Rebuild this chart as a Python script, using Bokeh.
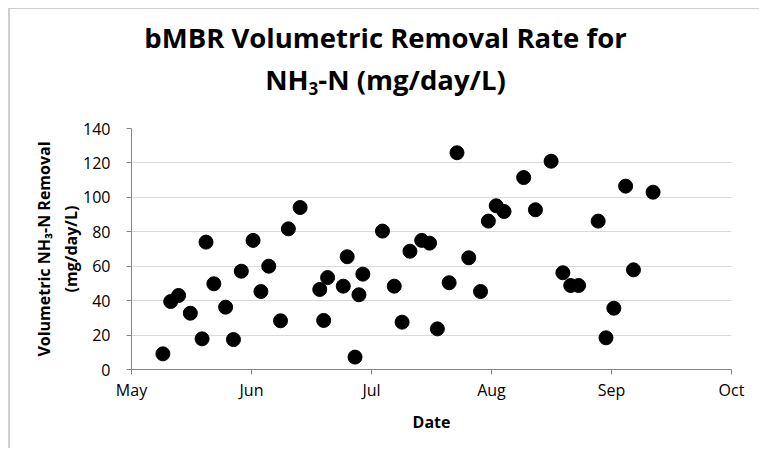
import numpy as np
import pandas as pd
from bokeh.plotting import figure
from bokeh.models import FixedTicker, Range1d, ColumnDataSource, Div
from bokeh.layouts import column
from bokeh.embed import file_html
from bokeh.resources import INLINE

# ---- data ----
dates = ["2012-05-09", "2012-05-11", "2012-05-13", "2012-05-16", "2012-05-19",
         "2012-05-20", "2012-05-22", "2012-05-25", "2012-05-27", "2012-05-29",
         "2012-06-01", "2012-06-03", "2012-06-05", "2012-06-08", "2012-06-10",
         "2012-06-13", "2012-06-18", "2012-06-19", "2012-06-20", "2012-06-24",
         "2012-06-25", "2012-06-27", "2012-06-28", "2012-06-29", "2012-07-04",
         "2012-07-07", "2012-07-09", "2012-07-11", "2012-07-14", "2012-07-16",
         "2012-07-18", "2012-07-21", "2012-07-23", "2012-07-26", "2012-07-29",
         "2012-07-31", "2012-08-02", "2012-08-04", "2012-08-09", "2012-08-12",
         "2012-08-16", "2012-08-19", "2012-08-21", "2012-08-23", "2012-08-28",
         "2012-08-30", "2012-09-01", "2012-09-04", "2012-09-06", "2012-09-11"]
removal = [9.1, 39.5, 43.0, 32.7, 17.8,
           74.0, 49.8, 36.2, 17.4, 57.1,
           75.0, 45.3, 60.0, 28.3, 81.7,
           94.1, 46.5, 28.5, 53.4, 48.4,
           65.5, 7.2, 43.4, 55.4, 80.4,
           48.4, 27.5, 68.7, 75.0, 73.4,
           23.6, 50.4, 125.9, 64.9, 45.3,
           86.2, 95.1, 91.8, 111.5, 92.8,
           121.0, 56.2, 48.8, 48.8, 86.2,
           18.4, 35.6, 106.5, 57.9, 103.0]
month_labels = ["May", "Jun", "Jul", "Aug", "Sep", "Oct"]
y_ticks = [0, 20, 40, 60, 80, 100, 120, 140]

axis_start = pd.Timestamp("2012-05-01")
axis_end = pd.Timestamp("2012-10-01")
span_days = (axis_end - axis_start).days
n_months = len(month_labels) - 1
days_per_unit = span_days / n_months  # equal-width month ticks, as in the reference

x_units = (pd.to_datetime(dates) - axis_start).days.to_numpy() / days_per_unit
src = ColumnDataSource(dict(x=x_units, y=removal))

FONT = "Open Sans"
W = 751

title_html = (
    "<div style=\"width:751px;font-family:'Open Sans';font-weight:bold;font-size:27.5px;"
    "line-height:42px;text-align:center;color:black;padding-top:8px;margin:0\">"
    "bMBR Volumetric Removal Rate for<br>"
    "NH<sub style=\"font-size:0.62em;vertical-align:-0.3em;line-height:0\">3</sub>"
    "-N (mg/day/L)</div>"
)
title_div = Div(text=title_html, width=W, height=100, margin=0)

p = figure(width=W, height=340, output_backend="svg", toolbar_location=None,
           x_range=Range1d(0, n_months), y_range=Range1d(0, 140),
           min_border_left=121, min_border_right=W - 721, min_border_top=19,
           min_border_bottom=80)
p.outline_line_color = None
p.background_fill_color = "white"
p.border_fill_color = "white"

p.scatter("x", "y", source=src, size=14, fill_color="black", line_color="black")

# axes
p.xaxis.ticker = FixedTicker(ticks=list(range(len(month_labels))))
p.xaxis.major_label_overrides = {i: m for i, m in enumerate(month_labels)}
p.yaxis.ticker = FixedTicker(ticks=y_ticks)
for ax in (p.xaxis[0], p.yaxis[0]):
    ax.axis_line_color = "#868686"
    ax.major_tick_line_color = "#868686"
    ax.major_tick_in = 0
    ax.major_tick_out = 5
    ax.minor_tick_line_color = None
    ax.major_label_text_font = FONT
    ax.major_label_text_font_size = "16px"
    ax.major_label_text_color = "black"
    ax.axis_label_text_font = FONT
    ax.axis_label_text_font_size = "16px"
    ax.axis_label_text_font_style = "bold"
    ax.axis_label_text_color = "black"
p.xaxis.major_label_standoff = 4
p.yaxis.major_label_standoff = 16
p.xaxis.axis_label = "Date"
p.xaxis.axis_label_standoff = 7
p.yaxis.axis_label = "Volumetric NH\u2083-N Removal\n(mg/day/L)"
p.yaxis.axis_label_standoff = -2
p.yaxis.axis_label_text_line_height = 1.25

p.xgrid.grid_line_color = None
p.ygrid.grid_line_color = "#d9d9d9"
p.ygrid.ticker = FixedTicker(ticks=y_ticks)

layout = column(title_div, p, spacing=0)
# chart-area frame: thin grey line at top and left, drawn as an offset shadow
layout.styles = {"margin-left": "10px", "margin-top": "9px",
                 "box-shadow": "-2px -1px 0 0 #cfcfcf",
                 "background-color": "white"}

open("out.html", "w").write(file_html(layout, INLINE))
